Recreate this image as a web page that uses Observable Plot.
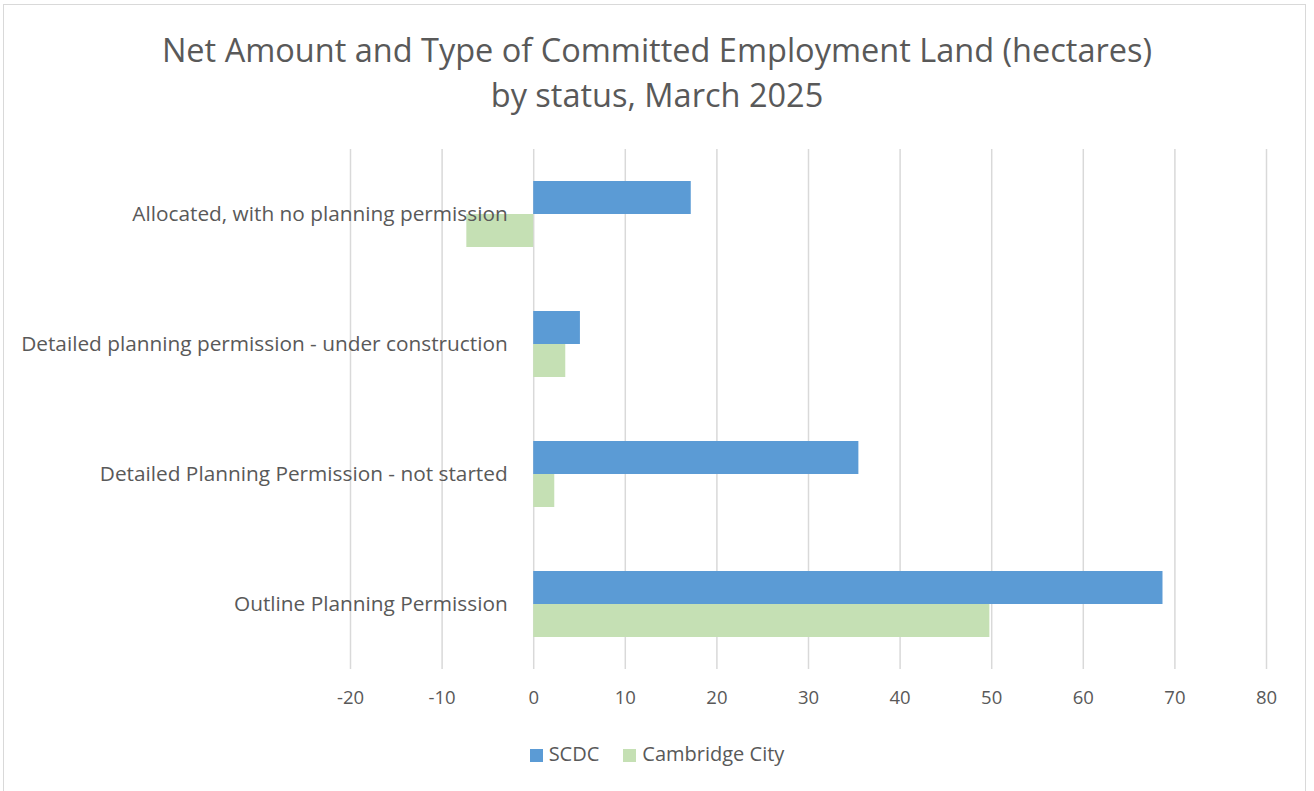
<!DOCTYPE html>
<html>
<head>
<meta charset="utf-8">
<script src="https://cdn.jsdelivr.net/npm/d3@7"></script>
<script src="https://cdn.jsdelivr.net/npm/@observablehq/plot@0.6"></script>
<style>
  html, body { margin: 0; padding: 0; background: #fff; }
  #wrap { position: relative; width: 1314px; height: 791px; overflow: hidden; font-family: "Open Sans", sans-serif; color: #595959; }
  #border { position: absolute; left: 3px; top: 4px; width: 1303px; height: 800px; border: 1px solid #d9d9d9; box-sizing: border-box; }
  #title { position: absolute; left: 0; top: 27px; width: 1314px; text-align: center; font-size: 32.5px; line-height: 45px; color: #595959; }
  #chart { position: absolute; left: 0; top: 130px; }
  #legend { position: absolute; left: 0; top: 740px; width: 1314px; text-align: center; font-size: 20px; line-height: 28px; }
  .sw { display: inline-block; width: 13px; height: 13px; margin-right: 6px; vertical-align: -1px; }
  .item { display: inline-block; margin: 0 12px; }
</style>
</head>
<body>
<div id="wrap">
  <div id="border"></div>
  <div id="title">Net Amount and Type of Committed Employment Land (hectares)<br>by status, March 2025</div>
  <div id="chart"></div>
  <div id="legend"></div>
</div>
<script>
const categories = [
  "Allocated, with no planning permission",
  "Detailed planning permission - under construction",
  "Detailed Planning Permission - not started",
  "Outline Planning Permission"
];
const seriesNames = ["SCDC", "Cambridge City"];
const scdcValues = [17.2, 5.1, 35.5, 68.7];
const cityValues = [-7.3, 3.5, 2.3, 49.8];
const seriesColors = ["#5B9BD5", "#C5E0B4"];
const xTicks = [-20, -10, 0, 10, 20, 30, 40, 50, 60, 70, 80];

const rows = [];
categories.forEach((c, i) => {
  rows.push({category: c, series: seriesNames[0], value: scdcValues[i]});
  rows.push({category: c, series: seriesNames[1], value: cityValues[i]});
});

const chart = Plot.plot({
  width: 1314,
  height: 590,
  marginLeft: 350,
  marginRight: 48,
  marginTop: 18,
  marginBottom: 50,
  style: {fontFamily: "'Open Sans', sans-serif", fontSize: "18.5px", color: "#595959", background: "transparent"},
  x: {domain: [-20, 80], ticks: xTicks, tickSize: 0, tickPadding: 21, label: null, tickFormat: d => String(d)},
  y: {domain: seriesNames, paddingInner: 0, paddingOuter: 0.95, axis: null},
  fy: {domain: categories, padding: 0, axis: null},
  color: {domain: seriesNames, range: seriesColors},
  marks: [
    Plot.gridX(xTicks, {stroke: "#d9d9d9", strokeOpacity: 1, strokeWidth: 1.5}),
    Plot.barX(rows, {x: "value", y: "series", fy: "category", fill: "series"}),
    Plot.text(categories, {fy: d => d, x: () => 0, dx: -26, textAnchor: "end", frameAnchor: "middle", fontSize: 20.8, fill: "#595959"})
  ]
});
document.getElementById("chart").appendChild(chart);

const legend = document.getElementById("legend");
seriesNames.forEach((s, i) => {
  const item = document.createElement("span");
  item.className = "item";
  const sw = document.createElement("span");
  sw.className = "sw";
  sw.style.background = seriesColors[i];
  item.appendChild(sw);
  item.appendChild(document.createTextNode(s));
  legend.appendChild(item);
});
</script>
</body>
</html>
